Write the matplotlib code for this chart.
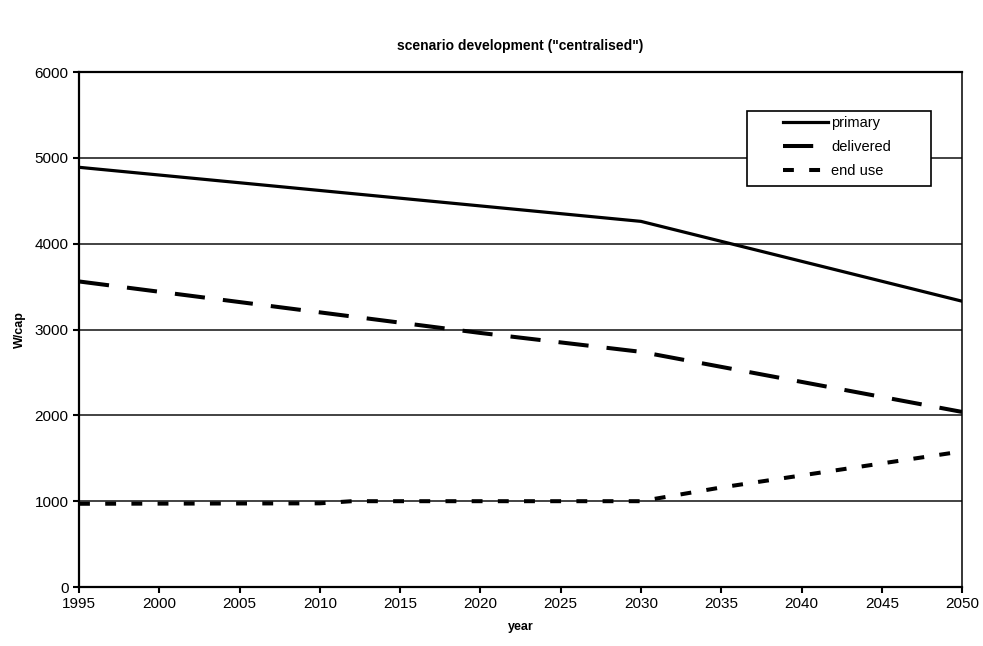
import matplotlib
matplotlib.use("Agg")
import matplotlib.pyplot as plt
from matplotlib.patches import Rectangle

plt.rcParams['font.family'] = ['Liberation Sans', 'DejaVu Sans']

years_primary = [1995, 2030, 2050]
primary = [4890, 4260, 3330]

years_delivered = [1995, 2020, 2030, 2050]
delivered = [3560, 2960, 2740, 2040]

years_enduse = [1995, 2010, 2012, 2030, 2035, 2040, 2045, 2050]
end_use = [970, 975, 1000, 1000, 1160, 1300, 1440, 1580]

fig = plt.figure(figsize=(9.83, 6.46), dpi=100)
ax = fig.add_axes([0.0804, 0.0913, 0.8983, 0.7972])

ax.plot(years_primary, primary, color='black', lw=2.3, label='primary')
ax.plot(years_delivered, delivered, color='black', lw=2.9, dashes=(7.5, 4.5), label='delivered')
ax.plot(years_enduse, end_use, color='black', lw=2.9, dashes=(2.7, 3.8), label='end use')

ax.set_xlim(1995, 2050)
ax.set_ylim(0, 6000)
ax.set_xticks(range(1995, 2051, 5))
ax.set_yticks(range(0, 6001, 1000))
ax.yaxis.grid(True, color='#222222', lw=1.2)
ax.set_axisbelow(True)
for s in ax.spines.values():
    s.set_color('black')
    s.set_linewidth(1.6)
ax.spines['right'].set_linewidth(1.1)
ax.tick_params(direction='out', length=4, width=1.5, labelsize=11, colors='black')

ax.set_title('scenario development ("centralised")', fontsize=10, fontweight='bold', pad=16)
ax.set_xlabel('year', fontsize=9, fontweight='bold', labelpad=7)
ax.set_ylabel('W/cap', fontsize=9, fontweight='bold', labelpad=6)

# legend box drawn separately so the frame can be wider than the entries
box = Rectangle((0.7565, 0.779), 0.2085, 0.145, transform=ax.transAxes,
                facecolor='white', edgecolor='black', lw=1.2, zorder=5, clip_on=False)
ax.add_patch(box)
leg = ax.legend(loc='upper left', bbox_to_anchor=(0.797, 0.915), frameon=False,
                fontsize=10.5, handlelength=3.1, handletextpad=0.2, borderpad=0,
                labelspacing=0.68, borderaxespad=0)
leg.set_zorder(6)

fig.savefig('out.png', dpi=100)
